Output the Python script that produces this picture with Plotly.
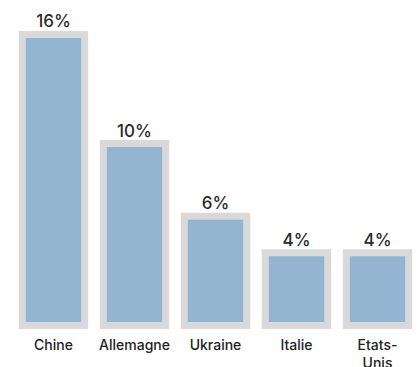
import plotly.graph_objects as go

pays = ["Chine", "Allemagne", "Ukraine", "Italie", "Etats-<br>Unis"]
parts = [16, 10, 6, 4, 4]
etiquettes = ["16%", "10%", "6%", "4%", "4%"]

fig = go.Figure(go.Bar(
    x=pays,
    y=parts,
    width=0.77,
    text=etiquettes,
    textposition="outside",
    cliponaxis=False,
    textfont=dict(size=17, color="#2b2b2b", family="Inter", weight=500),
    marker=dict(color="#93b5d1", line=dict(color="#d9d9d9", width=7)),
))

fig.update_layout(
    width=420, height=367,
    margin=dict(l=13, r=2, t=10, b=36),
    plot_bgcolor="white", paper_bgcolor="white",
    showlegend=False,
    font=dict(family="Inter", color="#222222"),
)
fig.update_xaxes(showline=False, showgrid=False, ticks="", automargin=False,
                 tickfont=dict(size=14, weight=500), ticklabelstandoff=4)
fig.update_yaxes(visible=False, automargin=False, range=[-0.30, 17.34])

fig.write_html("out.html", config={"displayModeBar": False},
               post_script="document.body.style.margin='0';")
